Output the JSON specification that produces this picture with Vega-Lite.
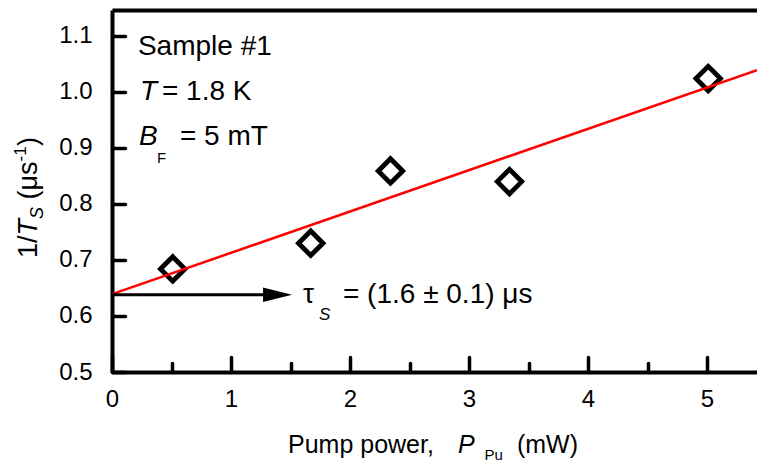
{
  "$schema": "https://vega.github.io/schema/vega-lite/v6.json",
  "width": 645,
  "height": 362,
  "autosize": {"type": "none"},
  "padding": {"left": 112, "top": 10, "right": 0, "bottom": 91},
  "background": "white",
  "config": {
    "view": {"stroke": null},
    "text": {"color": "black", "font": "Liberation Sans"},
    "axis": {"labelFont": "Liberation Sans", "labelColor": "black", "domainColor": "black", "tickColor": "black"}
  },
  "datasets": {
    "points": [
      {"power": 0.51, "rate": 0.684},
      {"power": 1.67, "rate": 0.730},
      {"power": 2.34, "rate": 0.859},
      {"power": 3.34, "rate": 0.840},
      {"power": 5.01, "rate": 1.024}
    ],
    "fit": [
      {"power": 0, "rate": 0.639},
      {"power": 5.42, "rate": 1.039}
    ],
    "upright": [
      {"px": 0.218, "py": 1.066, "t": "Sample #1", "fs": 28},
      {"px": 0.42, "py": 0.9857, "t": "= 1.8 K", "fs": 28},
      {"px": 0.378, "py": 0.873, "t": "F", "fs": 15},
      {"px": 0.571, "py": 0.905, "t": "= 5 mT", "fs": 28},
      {"px": 1.605, "py": 0.623, "t": "τ", "fs": 28},
      {"px": 1.941, "py": 0.623, "t": "= (1.6 ± 0.1) μs", "fs": 28},
      {"px": 1.479, "py": 0.3554, "t": "Pump power,", "fs": 25},
      {"px": 3.130, "py": 0.3429, "t": "Pu", "fs": 15},
      {"px": 3.403, "py": 0.3554, "t": "(mW)", "fs": 25}
    ],
    "italic": [
      {"px": 0.235, "py": 0.9857, "t": "T", "fs": 28},
      {"px": 0.227, "py": 0.905, "t": "B", "fs": 28},
      {"px": 1.740, "py": 0.593, "t": "S", "fs": 17},
      {"px": 2.908, "py": 0.3554, "t": "P", "fs": 25}
    ],
    "ytitle_upright": [
      {"px": -0.630, "py": 0.7036, "t": "1/", "fs": 27},
      {"px": -0.630, "py": 0.808, "t": "(μs", "fs": 27},
      {"px": -0.723, "py": 0.8759, "t": "-1", "fs": 17},
      {"px": -0.630, "py": 0.9036, "t": ")", "fs": 27}
    ],
    "ytitle_italic": [
      {"px": -0.630, "py": 0.7438, "t": "T", "fs": 27},
      {"px": -0.580, "py": 0.7732, "t": "S", "fs": 18}
    ]
  },
  "resolve": {"axis": {"x": "independent"}},
  "layer": [
    {
      "data": {"name": "points"},
      "mark": {"type": "point", "shape": "diamond", "filled": false, "stroke": "black", "strokeWidth": 4.8, "size": 600, "opacity": 1},
      "encoding": {
        "x": {"field": "power", "type": "quantitative",
          "scale": {"domain": [0, 5.42], "nice": false, "zero": false},
          "axis": {"orient": "bottom", "title": null,
            "values": [0, 0.5, 1, 1.5, 2, 2.5, 3, 3.5, 4, 4.5, 5],
            "labelExpr": "datum.value % 1 === 0 ? format(datum.value, 'd') : ''",
            "labelFontSize": 24, "labelPadding": 30, "labelFlush": false, "labelOverlap": false,
            "domainWidth": 4, "tickWidth": 3.5, "tickCap": "round",
            "tickSize": {"condition": {"test": "datum.value % 1 === 0", "value": -15}, "value": -9},
            "grid": false}},
        "y": {"field": "rate", "type": "quantitative",
          "scale": {"domain": [0.5, 1.1464], "nice": false, "zero": false},
          "axis": {"orient": "left", "title": null,
            "values": [0.5, 0.55, 0.6, 0.65, 0.7, 0.75, 0.8, 0.85, 0.9, 0.95, 1.0, 1.05, 1.1],
            "labelExpr": "abs(datum.value * 10 - round(datum.value * 10)) < 0.01 ? format(datum.value, '.1f') : ''",
            "labelFontSize": 24, "labelPadding": 33, "labelFlush": false, "labelOverlap": false,
            "domainWidth": 4, "tickWidth": 3.5, "tickCap": "round",
            "tickSize": {"condition": {"test": "abs(datum.value * 10 - round(datum.value * 10)) < 0.01", "value": -13}, "value": -8},
            "grid": false}}
      }
    },
    {
      "data": {"name": "fit"},
      "mark": {"type": "line", "color": "#ff0000", "strokeWidth": 2.5},
      "encoding": {
        "x": {"field": "power", "type": "quantitative",
          "scale": {"domain": [0, 5.42], "nice": false, "zero": false},
          "axis": {"orient": "top", "title": null, "labels": false, "ticks": false, "domainWidth": 4, "grid": false}},
        "y": {"field": "rate", "type": "quantitative", "scale": {"domain": [0.5, 1.1464], "nice": false, "zero": false}, "axis": {"title": null}}
      }
    },
    {
      "data": {"values": [{}]},
      "mark": {"type": "rule", "color": "black", "strokeWidth": 3},
      "encoding": {
        "x": {"datum": 0, "type": "quantitative", "scale": {"domain": [0, 5.42], "nice": false, "zero": false}, "axis": null},
        "x2": {"datum": 1.33},
        "y": {"datum": 0.638, "type": "quantitative", "scale": {"domain": [0.5, 1.1464], "nice": false, "zero": false}, "axis": {"title": null}}
      }
    },
    {
      "data": {"values": [{}]},
      "mark": {"type": "point", "shape": "M-1,-0.5L1,0L-1,0.5Z", "filled": true, "color": "black", "size": 841, "opacity": 1},
      "encoding": {
        "x": {"datum": 1.391, "type": "quantitative", "scale": {"domain": [0, 5.42], "nice": false, "zero": false}, "axis": null},
        "y": {"datum": 0.638, "type": "quantitative", "scale": {"domain": [0.5, 1.1464], "nice": false, "zero": false}, "axis": {"title": null}}
      }
    },
    {
      "data": {"name": "upright"},
      "mark": {"type": "text", "align": "left", "baseline": "alphabetic", "font": "Liberation Sans"},
      "encoding": {
        "x": {"field": "px", "type": "quantitative", "scale": {"domain": [0, 5.42], "nice": false, "zero": false}, "axis": null},
        "y": {"field": "py", "type": "quantitative", "scale": {"domain": [0.5, 1.1464], "nice": false, "zero": false}, "axis": {"title": null}},
        "text": {"field": "t"},
        "size": {"field": "fs", "type": "quantitative", "scale": null, "legend": null}
      }
    },
    {
      "data": {"name": "italic"},
      "mark": {"type": "text", "align": "left", "baseline": "alphabetic", "fontStyle": "italic", "font": "Liberation Sans"},
      "encoding": {
        "x": {"field": "px", "type": "quantitative", "scale": {"domain": [0, 5.42], "nice": false, "zero": false}, "axis": null},
        "y": {"field": "py", "type": "quantitative", "scale": {"domain": [0.5, 1.1464], "nice": false, "zero": false}, "axis": {"title": null}},
        "text": {"field": "t"},
        "size": {"field": "fs", "type": "quantitative", "scale": null, "legend": null}
      }
    },
    {
      "data": {"name": "ytitle_upright"},
      "mark": {"type": "text", "align": "left", "baseline": "alphabetic", "angle": 270, "font": "Liberation Sans"},
      "encoding": {
        "x": {"field": "px", "type": "quantitative", "scale": {"domain": [0, 5.42], "nice": false, "zero": false}, "axis": null},
        "y": {"field": "py", "type": "quantitative", "scale": {"domain": [0.5, 1.1464], "nice": false, "zero": false}, "axis": {"title": null}},
        "text": {"field": "t"},
        "size": {"field": "fs", "type": "quantitative", "scale": null, "legend": null}
      }
    },
    {
      "data": {"name": "ytitle_italic"},
      "mark": {"type": "text", "align": "left", "baseline": "alphabetic", "angle": 270, "fontStyle": "italic", "font": "Liberation Sans"},
      "encoding": {
        "x": {"field": "px", "type": "quantitative", "scale": {"domain": [0, 5.42], "nice": false, "zero": false}, "axis": null},
        "y": {"field": "py", "type": "quantitative", "scale": {"domain": [0.5, 1.1464], "nice": false, "zero": false}, "axis": {"title": null}},
        "text": {"field": "t"},
        "size": {"field": "fs", "type": "quantitative", "scale": null, "legend": null}
      }
    }
  ]
}
